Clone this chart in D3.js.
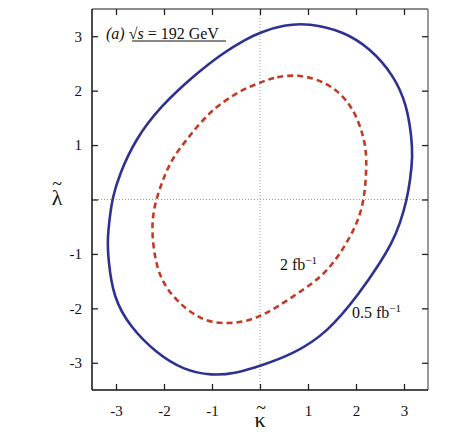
<!DOCTYPE html>
<html>
<head>
<meta charset="utf-8">
<script src="https://cdn.jsdelivr.net/npm/d3@7"></script>
<style>
  body { margin: 0; background: #fff; }
  text { font-family: "Liberation Serif", "DejaVu Serif", serif; fill: #111; }
</style>
</head>
<body>
<svg id="chart" width="452" height="436"></svg>
<script>
// contour points (kappa, lambda), clockwise from the top
var outerKappa = [0.00, 0.50, 1.01, 1.74, 2.29, 2.78, 3.06, 3.16, 3.18, 3.13, 3.06, 2.92, 2.74, 2.54, 2.08, 1.39, 0.69,
  0.00, -0.49, -1.01, -1.60, -2.15, -2.71, -3.06, -3.16, -3.18, -3.13, -3.07, -2.92, -2.60, -2.08, -1.32, -0.76, -0.28];
var outerLambda = [3.07, 3.21, 3.24, 3.09, 2.78, 2.29, 1.74, 1.13, 0.79, 0.36, 0.00, -0.44, -0.81, -1.11, -1.72, -2.46, -2.84,
  -3.06, -3.19, -3.24, -3.13, -2.83, -2.34, -1.79, -1.11, -0.74, -0.32, 0.05, 0.48, 1.10, 1.71, 2.32, 2.70, 2.95];
var innerKappa = [0.00, 0.35, 0.76, 1.18, 1.60, 1.88, 2.05, 2.15, 2.21, 2.22, 2.17, 2.05, 1.84, 1.58, 1.28, 0.83, 0.35,
  0.00, -0.35, -0.69, -1.11, -1.53, -1.88, -2.08, -2.19, -2.26, -2.21, -2.05, -1.94, -1.81, -1.67, -1.49, -1.32, -1.11, -0.90, -0.42];
var innerLambda = [2.15, 2.26, 2.29, 2.22, 2.02, 1.74, 1.44, 1.16, 0.91, 0.54, 0.00, -0.38, -0.75, -1.11, -1.42, -1.70, -1.98,
  -2.15, -2.25, -2.28, -2.25, -2.03, -1.72, -1.42, -1.08, -0.56, -0.13, 0.30, 0.54, 0.76, 0.94, 1.14, 1.33, 1.53, 1.71, 2.00];
var tickValues = [-3, -2, -1, 0, 1, 2, 3];
var tickLabels = ["-3", "-2", "-1", "", "1", "2", "3"];

var svg = d3.select("#chart");
var x = d3.scaleLinear().domain([-3.5, 3.5]).range([92, 428]);
var y = d3.scaleLinear().domain([-3.5, 3.5]).range([390, 9]);

// zero lines
svg.append("line").attr("x1", x(0)).attr("x2", x(0)).attr("y1", y(3.5)).attr("y2", y(-3.5))
  .attr("stroke", "#999").attr("stroke-width", 1).attr("stroke-dasharray", "1,2");
svg.append("line").attr("x1", x(-3.5)).attr("x2", x(3.5)).attr("y1", y(0)).attr("y2", y(0))
  .attr("stroke", "#999").attr("stroke-width", 1).attr("stroke-dasharray", "1,2");

// frame: top/right gray, left/bottom black
svg.append("line").attr("x1", 92).attr("x2", 428).attr("y1", 9).attr("y2", 9).attr("stroke", "#666").attr("stroke-width", 1.5);
svg.append("line").attr("x1", 428).attr("x2", 428).attr("y1", 9).attr("y2", 390).attr("stroke", "#777").attr("stroke-width", 1.5);
svg.append("line").attr("x1", 92).attr("x2", 92).attr("y1", 9).attr("y2", 390).attr("stroke", "#111").attr("stroke-width", 1.5);
svg.append("line").attr("x1", 92).attr("x2", 428).attr("y1", 390).attr("y2", 390).attr("stroke", "#111").attr("stroke-width", 1.5);

// axes with inward ticks
var tickLen = 6;
svg.append("g").attr("transform", "translate(0,390)")
  .call(d3.axisBottom(x).tickValues(tickValues).tickSizeInner(-tickLen).tickSizeOuter(0).tickFormat(function(d, i) { return tickLabels[i]; }).tickPadding(15))
  .call(function(g) { g.select(".domain").remove(); });
svg.append("g").attr("transform", "translate(0,9)")
  .call(d3.axisTop(x).tickValues(tickValues).tickSizeInner(-tickLen).tickSizeOuter(0).tickFormat(""))
  .call(function(g) { g.select(".domain").remove(); });
svg.append("g").attr("transform", "translate(92,0)")
  .call(d3.axisLeft(y).tickValues(tickValues).tickSizeInner(-tickLen).tickSizeOuter(0).tickFormat(function(d, i) { return tickLabels[i]; }).tickPadding(10))
  .call(function(g) { g.select(".domain").remove(); });
svg.append("g").attr("transform", "translate(428,0)")
  .call(d3.axisRight(y).tickValues(tickValues).tickSizeInner(-tickLen).tickSizeOuter(0).tickFormat(""))
  .call(function(g) { g.select(".domain").remove(); });
svg.selectAll(".tick line").attr("stroke", "#222").attr("stroke-width", 1.3);
svg.selectAll(".tick text").style("font-family", "Liberation Serif, serif").style("font-size", "15px").attr("fill", "#111");

// contours: closed B-spline through the read points
var line = d3.line().x(function(d) { return x(d[0]); }).y(function(d) { return y(d[1]); })
  .curve(d3.curveBasisClosed);
var outer = outerKappa.map(function(k, i) { return [k, outerLambda[i]]; });
var inner = innerKappa.map(function(k, i) { return [k, innerLambda[i]]; });
svg.append("path").datum(outer).attr("d", line).attr("fill", "none")
  .attr("stroke", "#2e3192").attr("stroke-width", 2.6);
svg.append("path").datum(inner).attr("d", line).attr("fill", "none")
  .attr("stroke", "#c23b26").attr("stroke-width", 2.6).attr("stroke-dasharray", "6,4");

// curve labels
var l1 = svg.append("text").attr("x", 280).attr("y", 270).style("font-size", "16px");
l1.append("tspan").text("2 fb");
l1.append("tspan").attr("dy", -6).style("font-size", "11px").text("\u22121");
var l2 = svg.append("text").attr("x", 352).attr("y", 318).style("font-size", "16px");
l2.append("tspan").text("0.5 fb");
l2.append("tspan").attr("dy", -6).style("font-size", "11px").text("\u22121");

// title
var t = svg.append("text").attr("x", 106).attr("y", 39).style("font-size", "16px");
t.append("tspan").style("font-style", "italic").text("(a) ");
t.append("tspan").text("\u221A");
t.append("tspan").style("font-style", "italic").text("s");
t.append("tspan").text(" = 192 GeV");
svg.append("line").attr("x1", 132).attr("x2", 226).attr("y1", 41).attr("y2", 41)
  .attr("stroke", "#111").attr("stroke-width", 1.2);

// axis titles (letter with a tilde above it)
var xt = svg.append("text").attr("text-anchor", "middle");
xt.append("tspan").attr("x", 260).attr("y", 427).style("font-size", "22px").text("\u03BA");
xt.append("tspan").attr("x", 261).attr("y", 414).style("font-size", "18px").text("~");
var yt = svg.append("text").attr("text-anchor", "middle");
yt.append("tspan").attr("x", 57).attr("y", 205).style("font-size", "22px").text("\u03BB");
yt.append("tspan").attr("x", 57).attr("y", 190).style("font-size", "18px").text("~");
</script>
</body>
</html>
